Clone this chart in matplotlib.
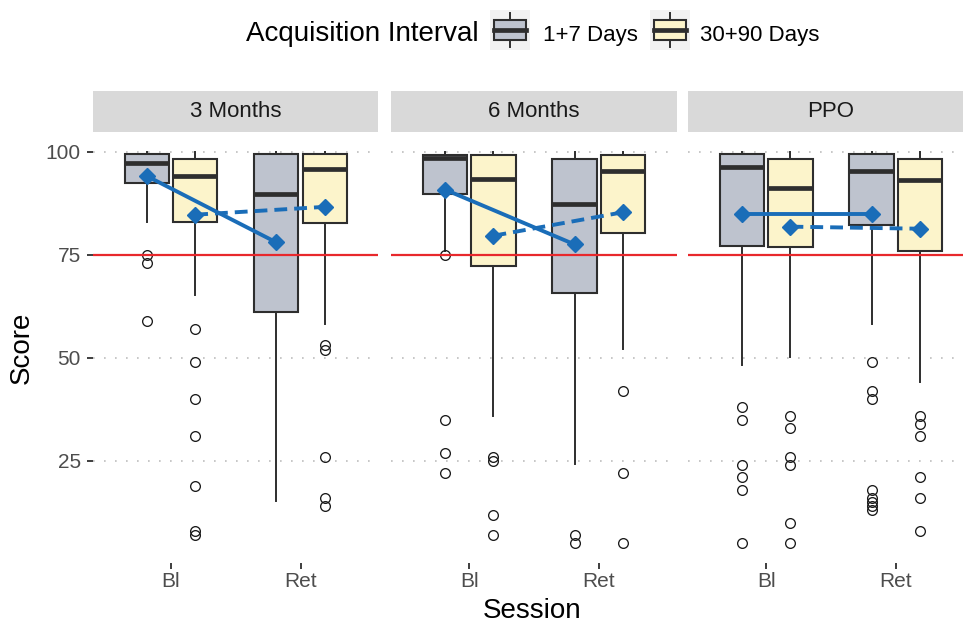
import matplotlib
matplotlib.use('Agg')
import matplotlib.pyplot as plt
from matplotlib.patches import Rectangle

plt.rcParams['font.family'] = ['Liberation Sans', 'DejaVu Sans']

panels = ['3 Months', '6 Months', 'PPO']
sessions = ['Bl', 'Ret']
groups = ['1+7 Days', '30+90 Days']

# box summaries per panel: [Bl, Ret] as (whislo, q1, median, q3, whishi)
box_short = {
    '3 Months': [(83, 92.5, 97.2, 99.3, 100), (15.3, 61.1, 89.8, 99.3, 100)],
    '6 Months': [(76, 89.7, 98.5, 99.1, 100), (24.3, 65.7, 87.2, 98.1, 100)],
    'PPO':      [(48.2, 77.0, 96.3, 99.3, 100), (58.3, 82.1, 95.2, 99.3, 100)],
}
box_long = {
    '3 Months': [(65.3, 83.0, 94.2, 98.1, 100), (58.3, 82.6, 95.7, 99.3, 100)],
    '6 Months': [(36.0, 72.2, 93.3, 99.1, 100), (52.2, 80.2, 95.2, 99.1, 100)],
    'PPO':      [(50.2, 76.9, 91.2, 98.1, 100), (44.2, 75.8, 93.2, 98.1, 100)],
}

# outliers per panel: [Bl, Ret]
fliers_short = {
    '3 Months': [[75, 73, 59], []],
    '6 Months': [[75, 35, 27, 22], [7, 5]],
    'PPO':      [[38, 35, 24, 21, 18, 5], [49, 42, 40, 18, 16, 15, 14, 13]],
}
fliers_long = {
    '3 Months': [[57, 49, 40, 31, 19, 8, 7], [53, 52, 26, 16, 14]],
    '6 Months': [[26, 25, 12, 7], [42, 22, 5]],
    'PPO':      [[36, 33, 26, 24, 10, 5], [36, 34, 31, 21, 16, 8]],
}

# group means per panel: [Bl, Ret]
mean_short = {'3 Months': [94.1, 78.0], '6 Months': [90.8, 77.5], 'PPO': [84.9, 84.9]}
mean_long = {'3 Months': [84.7, 86.6], '6 Months': [79.6, 85.3], 'PPO': [81.8, 81.3]}

fills = ['#BEC3CE', '#FCF4CB']
blue = '#1A6DB8'
red = '#E8282C'
dark = '#2E2E2E'
W, H = 963, 624

fig = plt.figure(figsize=(W / 100, H / 100), dpi=100)

lefts = [93.1, 391.4, 688.4]
pw = 285.2
top, bot = 132, 563
offsets = [-0.1875, 0.1875]


def make_stats(summary, outl):
    lo, q1, med, q3, hi = summary
    return dict(whislo=lo, q1=q1, med=med, q3=q3, whishi=hi, fliers=outl)


for i, name in enumerate(panels):
    ax = fig.add_axes([lefts[i] / W, 1 - bot / H, pw / W, (bot - top) / H])
    ax.set_xlim(-0.6, 1.6)
    ax.set_ylim(0.25, 104.75)
    for s in ax.spines.values():
        s.set_visible(False)
    ax.set_yticks([25, 50, 75, 100])
    ax.yaxis.grid(True, color='#BDBDBD', linestyle=(0, (1, 5.6)), linewidth=1.2)
    ax.set_axisbelow(True)
    ax.axhline(75, color=red, linewidth=1.6, zorder=2.5)

    for g, (boxes, outs, fill) in enumerate([(box_short, fliers_short, fills[0]),
                                              (box_long, fliers_long, fills[1])]):
        stats = [make_stats(boxes[name][k], outs[name][k]) for k in range(2)]
        pos = [k + offsets[g] for k in range(2)]
        ax.bxp(stats, positions=pos, widths=0.34, patch_artist=True,
               showcaps=False, manage_ticks=False,
               boxprops=dict(facecolor=fill, edgecolor=dark, linewidth=1.5),
               medianprops=dict(color=dark, linewidth=3.4),
               whiskerprops=dict(color=dark, linewidth=1.4),
               flierprops=dict(marker='o', markerfacecolor='none',
                               markeredgecolor='#1A1A1A', markersize=7,
                               markeredgewidth=0.95))

    ax.plot([offsets[0], 1 + offsets[0]], mean_short[name], color=blue,
            linewidth=2.8, marker='D', markersize=8, zorder=4)
    ax.plot([offsets[1], 1 + offsets[1]], mean_long[name], color=blue,
            linewidth=2.8, linestyle=(0, (3.3, 1.8)), marker='D',
            markersize=8, zorder=4)

    ax.set_xticks([0, 1])
    ax.set_xticklabels(sessions)
    ax.tick_params(axis='x', length=4.5, width=1.3, color=dark,
                   labelsize=15, labelcolor='#4D4D4D', pad=2.2)
    if i == 0:
        ax.tick_params(axis='y', length=4.5, width=1.3, color=dark,
                       labelsize=15, labelcolor='#4D4D4D', pad=4.3)
    else:
        ax.tick_params(axis='y', length=0, labelleft=False)

    strip = fig.add_axes([lefts[i] / W, 1 - top / H, pw / W, 41 / H])
    strip.set_facecolor('#D9D9D9')
    strip.set_xticks([])
    strip.set_yticks([])
    for s in strip.spines.values():
        s.set_visible(False)
    strip.text(0.5, 0.5, name, ha='center', va='center', fontsize=16,
               color='#1A1A1A', transform=strip.transAxes)

fig.text(22 / W, 1 - 348 / H, 'Score', rotation=90, ha='center',
         va='center', fontsize=20)
fig.text(532 / W, 1 - 618 / H, 'Session', ha='center', va='baseline',
         fontsize=20)

# legend: title, boxplot glyph keys and labels
fig.text(246 / W, 1 - 41 / H, 'Acquisition Interval', ha='left',
         va='baseline', fontsize=20)
key_lefts = [490, 650]
label_x = [543, 700]
for k in range(2):
    kax = fig.add_axes([key_lefts[k] / W, 1 - 50 / H, 40 / W, 40 / H])
    kax.set_xlim(0, 1)
    kax.set_ylim(0, 1)
    kax.set_facecolor('#F2F2F2')
    kax.set_xticks([])
    kax.set_yticks([])
    for s in kax.spines.values():
        s.set_visible(False)
    kax.plot([0.5, 0.5], [0.08, 0.25], color=dark, linewidth=1.4)
    kax.plot([0.5, 0.5], [0.75, 0.92], color=dark, linewidth=1.4)
    kax.add_patch(Rectangle((0.1, 0.25), 0.8, 0.5, facecolor=fills[k],
                            edgecolor=dark, linewidth=1.5))
    kax.plot([0.1, 0.9], [0.5, 0.5], color=dark, linewidth=3.4)
    fig.text(label_x[k] / W, 1 - 41 / H, groups[k], ha='left',
             va='baseline', fontsize=16)

fig.savefig('out.png', dpi=100)
